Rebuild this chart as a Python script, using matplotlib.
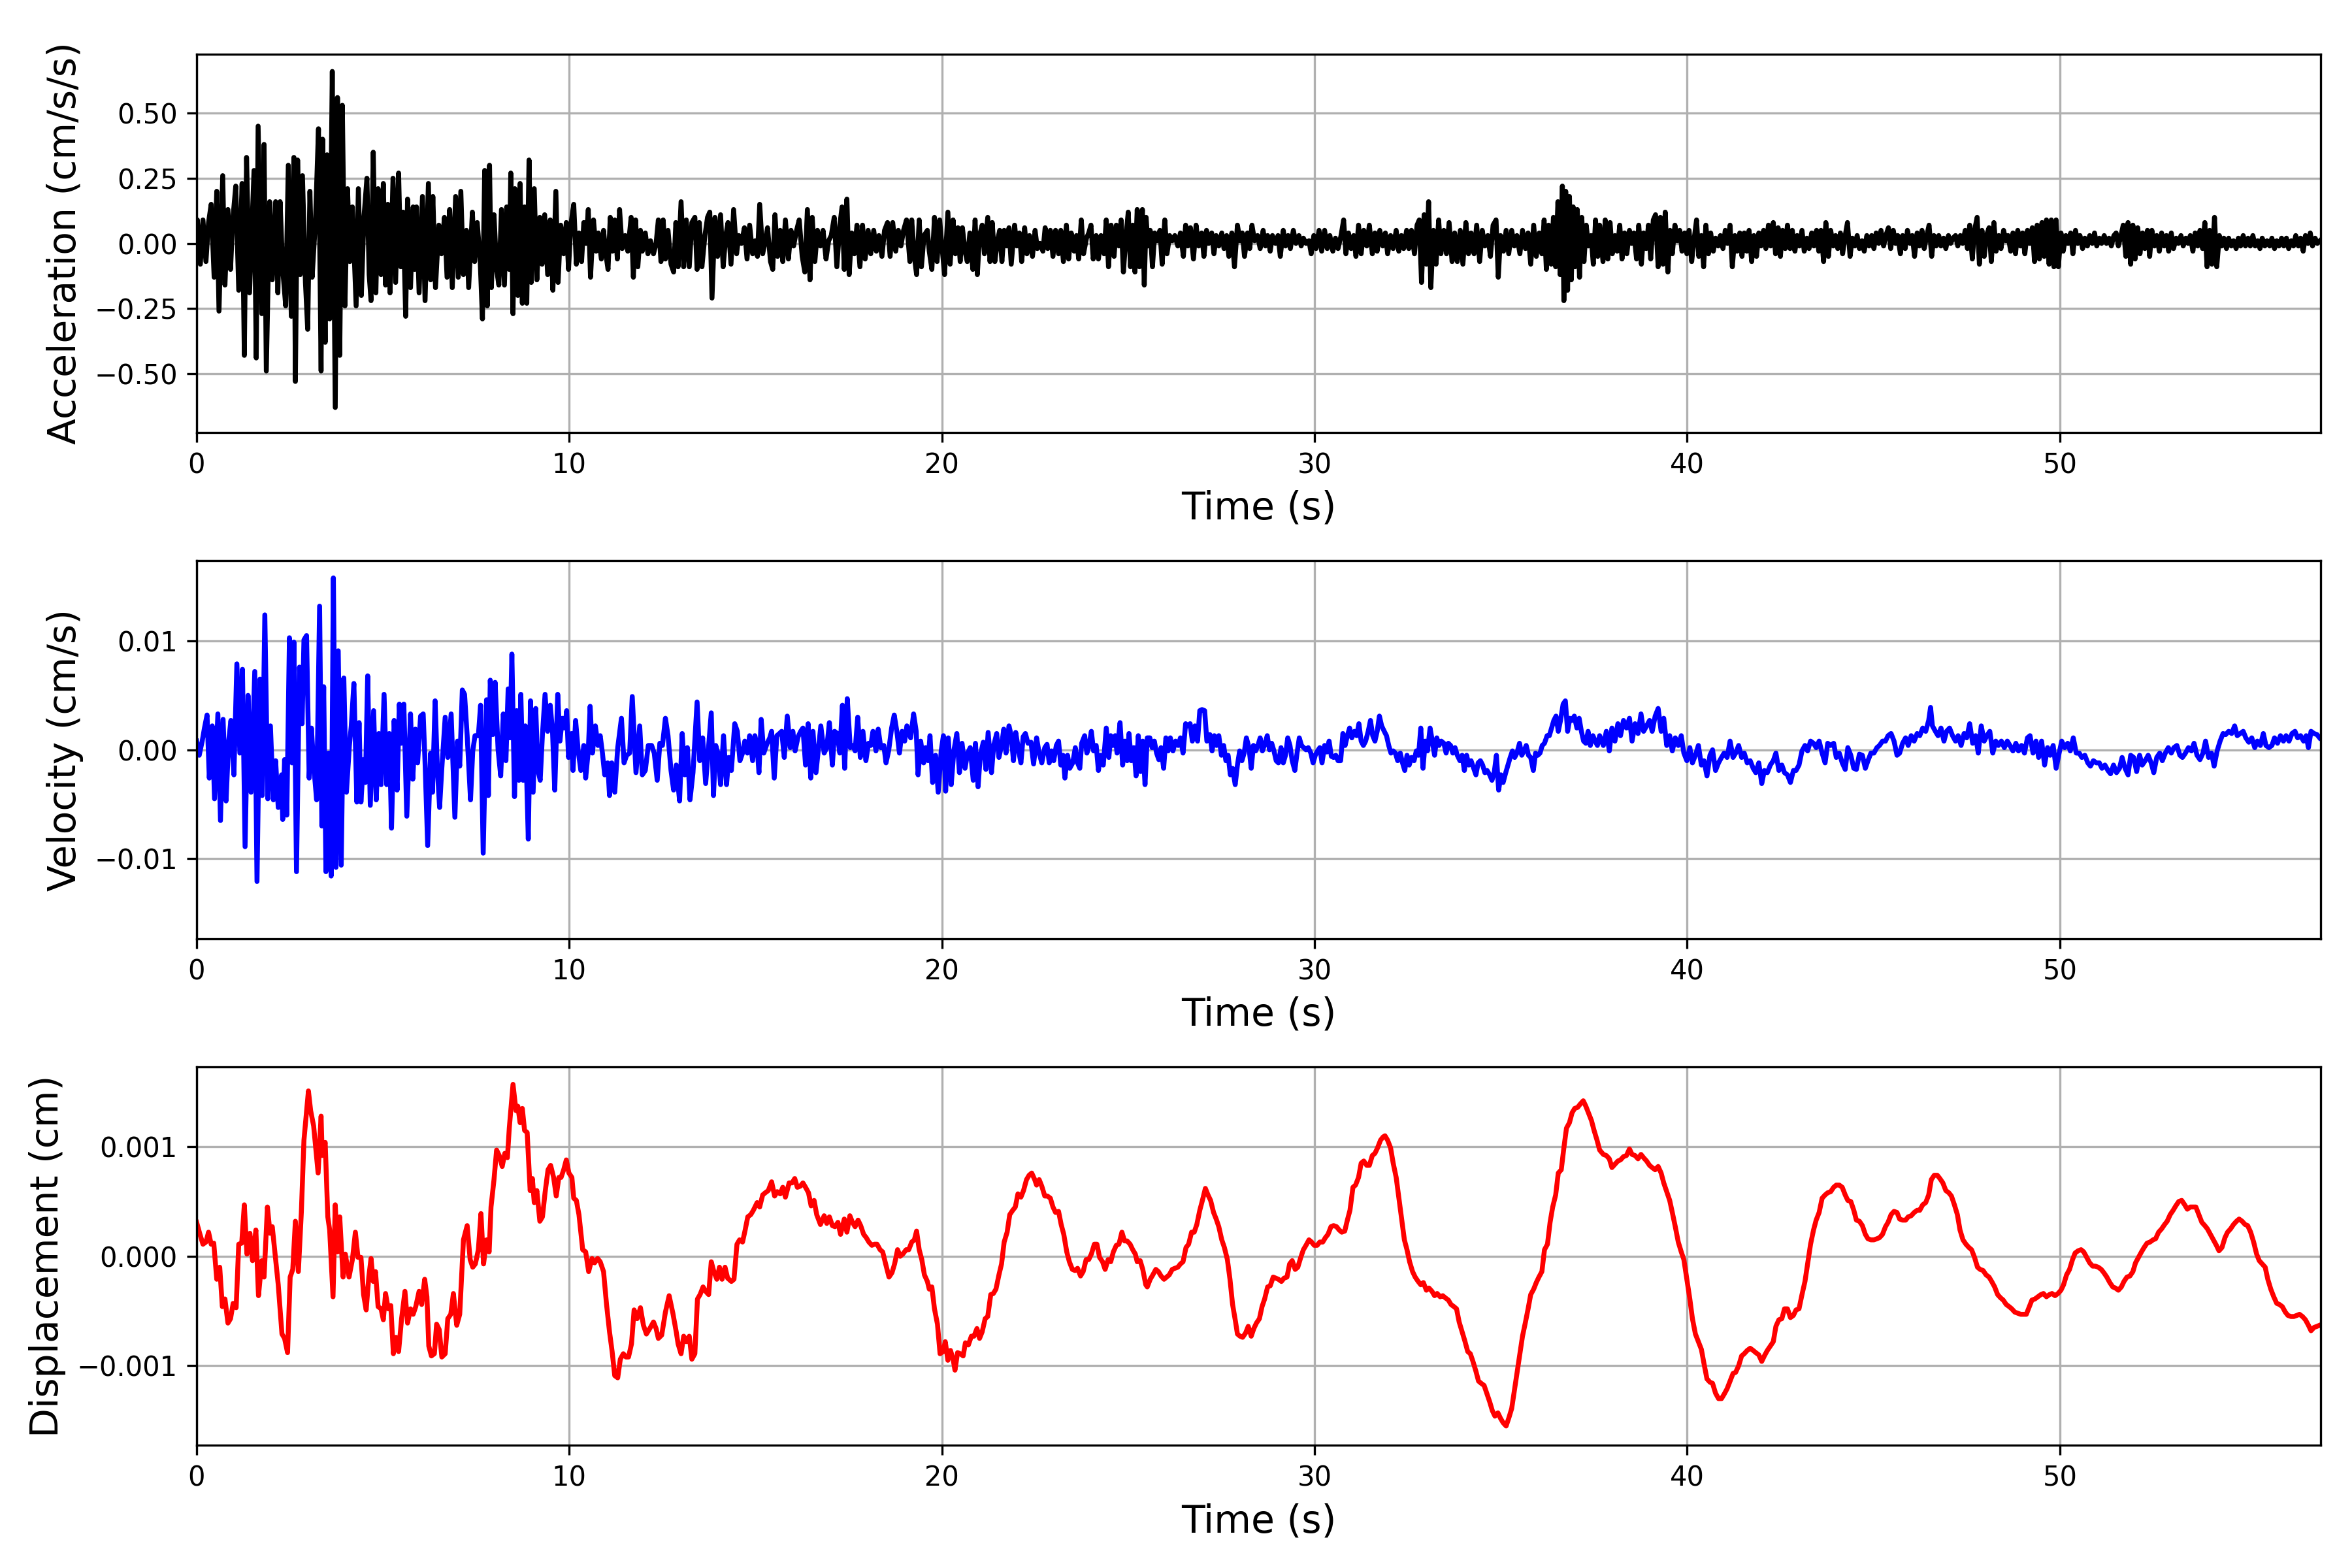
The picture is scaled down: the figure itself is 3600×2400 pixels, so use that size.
import matplotlib
matplotlib.use('Agg')
import matplotlib.pyplot as plt
import numpy as np

# values
# acceleration: (time s, value in 0.01 cm/s/s)
acc_pts = [
    (0.00, 0), (0.02, 9), (0.10, -8), (0.17, 9), (0.25, -7), (0.32, 8), (0.39, 15), (0.47, -13), (0.54, 20), (0.60, -26),
    (0.70, 26), (0.76, -16), (0.84, 13), (0.91, -10), (0.97, 9), (1.05, 22), (1.13, -18), (1.22, 23), (1.28, -43), (1.34, 33),
    (1.42, -19), (1.54, 28), (1.60, -44), (1.65, 45), (1.75, -27), (1.81, 38), (1.87, -49), (1.96, 16), (2.03, -14), (2.12, 16),
    (2.18, -19), (2.24, 16), (2.31, -10), (2.39, -24), (2.46, 30), (2.54, -28), (2.61, 33), (2.65, -53), (2.71, 32), (2.78, -12),
    (2.84, 26), (2.92, -15), (2.98, -33), (3.04, 20), (3.10, -13), (3.19, 9), (3.27, 44), (3.34, -49), (3.38, 40), (3.45, -38),
    (3.50, 34), (3.57, -29), (3.64, 66), (3.72, -63), (3.78, 56), (3.84, -43), (3.91, 53), (3.98, -24), (4.05, 21), (4.11, -7),
    (4.18, 14), (4.28, -24), (4.34, 21), (4.42, -20), (4.49, 10), (4.57, 25), (4.63, -12), (4.68, -22), (4.74, 35), (4.81, -19),
    (4.87, 21), (4.95, -12), (5.01, 23), (5.07, -16), (5.13, 15), (5.19, -19), (5.27, 25), (5.34, -15), (5.42, 27), (5.48, -9),
    (5.54, 12), (5.61, -28), (5.66, 17), (5.74, -17), (5.81, 14), (5.85, -10), (5.90, 14), (5.97, -19), (6.06, 18), (6.13, -22),
    (6.22, 23), (6.28, -14), (6.34, 18), (6.41, -17), (6.50, 7), (6.57, -4), (6.65, 10), (6.72, -13), (6.79, 13), (6.86, -17),
    (6.95, 18), (7.02, -13), (7.09, 20), (7.16, -12), (7.24, 5), (7.30, -17), (7.40, 12), (7.46, -7), (7.53, 8), (7.61, -7),
    (7.67, -29), (7.73, 28), (7.80, -24), (7.86, 30), (7.91, -17), (7.98, 11), (8.05, -10), (8.11, -16), (8.18, 13), (8.26, -16),
    (8.32, 14), (8.39, -10), (8.43, 27), (8.49, -27), (8.54, 21), (8.62, -20), (8.68, 23), (8.74, -23), (8.80, 14), (8.86, -23),
    (8.92, 32), (8.98, -15), (9.06, 21), (9.13, -14), (9.21, 10), (9.27, -8), (9.34, 11), (9.42, -12), (9.49, 9), (9.56, -18),
    (9.64, 20), (9.70, -15), (9.77, 7), (9.85, -4), (9.92, 8), (9.98, -10), (10.04, 7), (10.12, 15), (10.19, -8), (10.26, 4),
    (10.33, -7), (10.39, 8), (10.45, 0), (10.51, 13), (10.57, -13), (10.65, 9), (10.72, -3), (10.78, 4), (10.86, -6), (10.92, 5),
    (10.98, -4), (11.04, -10), (11.10, 10), (11.16, -3), (11.22, 9), (11.29, -6), (11.35, 13), (11.42, -2), (11.50, 3), (11.57, -3),
    (11.66, 10), (11.72, -13), (11.78, 9), (11.84, -9), (11.91, 5), (11.96, -3), (12.04, 4), (12.11, -4), (12.18, 1), (12.26, -4),
    (12.33, 0), (12.39, 9), (12.46, -7), (12.52, 9), (12.58, -6), (12.65, 5), (12.73, -8), (12.80, -11), (12.86, 8), (12.92, -9),
    (13.00, 16), (13.07, -9), (13.14, 9), (13.22, -9), (13.29, 8), (13.37, 10), (13.43, -10), (13.49, 8), (13.56, -9), (13.64, 3),
    (13.71, 10), (13.77, 12), (13.83, -21), (13.91, 10), (13.98, -5), (14.06, 11), (14.13, -9), (14.20, 3), (14.26, 8), (14.34, -8),
    (14.41, 13), (14.49, -4), (14.55, 3), (14.62, 0), (14.70, 6), (14.77, -6), (14.84, 7), (14.92, -4), (14.99, 1), (15.05, -5),
    (15.11, 15), (15.19, -4), (15.26, 1), (15.32, 6), (15.40, -7), (15.46, -10), (15.52, 11), (15.59, -5), (15.66, 5), (15.73, -7),
    (15.80, 9), (15.88, -6), (15.95, 5), (16.02, -1), (16.10, 5), (16.17, 9), (16.25, -5), (16.32, -11), (16.39, 13), (16.46, -14),
    (16.52, 10), (16.59, -7), (16.66, 5), (16.74, -1), (16.81, 5), (16.89, -6), (16.96, 1), (17.03, 3), (17.11, 10), (17.18, -9),
    (17.26, 7), (17.32, 14), (17.38, -10), (17.45, 17), (17.51, -12), (17.58, 4), (17.65, -4), (17.72, 7), (17.80, -9), (17.87, 7),
    (17.94, -6), (18.02, 5), (18.09, -4), (18.17, 5), (18.24, -3), (18.31, 3), (18.39, -5), (18.46, 5), (18.54, 8), (18.61, -5),
    (18.68, 8), (18.76, -3), (18.83, 5), (18.90, -1), (18.97, 5), (19.05, 9),
    (19.14, -7), (19.19, 9), (19.26, -5), (19.32, -12), (19.39, 9), (19.45, -9), (19.52, 3), (19.61, 5), (19.66, -3), (19.73, -10),
    (19.80, 10), (19.87, -7), (19.94, 9), (20.00, -1), (20.07, -12), (20.16, 12), (20.22, -8), (20.30, 9), (20.36, -4), (20.43, 6),
    (20.49, -7), (20.55, 6), (20.62, -3), (20.68, -7), (20.75, 4), (20.83, -10), (20.89, 9), (20.95, -12), (21.01, 3), (21.08, 7),
    (21.14, -4), (21.23, 10), (21.29, -7), (21.35, 8), (21.42, -7), (21.49, 1), (21.55, 5), (21.61, -7), (21.67, 5), (21.74, -1),
    (21.80, 6), (21.86, -8), (21.95, 7), (22.01, -1), (22.08, 4), (22.14, -7), (22.22, 6), (22.28, -4), (22.35, 3), (22.43, -5),
    (22.50, 5), (22.56, -2), (22.63, 0), (22.71, -3), (22.77, 6), (22.84, -2), (22.91, 5), (22.98, -5), (23.05, 5), (23.13, -4),
    (23.19, 5), (23.26, -7), (23.34, 7), (23.40, -6), (23.47, 4), (23.55, -3), (23.61, 3), (23.67, -6), (23.74, 9), (23.80, -4),
    (23.88, 2), (23.94, 4), (24.00, 7), (24.06, -6), (24.14, 3), (24.20, -6), (24.27, 3), (24.35, -4), (24.41, 9), (24.47, -9),
    (24.54, 7), (24.62, -5), (24.68, 7), (24.75, -1), (24.81, 9), (24.87, -11), (24.94, 3), (25.00, 12), (25.06, -9), (25.12, 7),
    (25.18, -11), (25.24, 13), (25.30, -9), (25.38, 13), (25.43, -16), (25.48, 10), (25.53, -1), (25.59, 5), (25.65, -9), (25.71, 4),
    (25.77, 1), (25.85, 5), (25.91, -8), (25.98, 9), (26.04, -4), (26.11, 3), (26.18, 1), (26.25, 3), (26.33, -1), (26.40, 4),
    (26.48, -5), (26.54, 7), (26.60, -1), (26.67, 6), (26.75, -6), (26.82, 7), (26.89, -1), (26.97, 4), (27.03, -5), (27.10, 5),
    (27.16, 0), (27.24, 4), (27.30, -4), (27.36, 3), (27.43, -1), (27.51, 4), (27.57, -2), (27.64, 3), (27.70, -5), (27.78, 4),
    (27.85, -9), (27.93, 7), (28.00, 1), (28.06, 4), (28.12, -5), (28.20, 4), (28.26, -2), (28.32, 7), (28.39, 1), (28.47, 3),
    (28.54, -2), (28.62, 5), (28.68, -1), (28.74, 3), (28.81, -3), (28.87, 3), (28.95, 0), (29.02, 3), (29.08, -5), (29.16, 5),
    (29.22, -1), (29.29, 3), (29.35, -2), (29.43, 5), (29.50, 0), (29.58, 3), (29.64, -1), (29.70, 2), (29.77, 0), (29.85, 1),
    (29.91, -4), (29.98, 3), (30.04, -2), (30.12, 5), (30.19, -3), (30.27, 5), (30.34, -2), (30.41, 3), (30.49, -3), (30.56, 2),
    (30.63, -2), (30.71, 3), (30.78, 9), (30.84, -4), (30.91, 4), (30.98, -2), (31.05, 3), (31.11, -5), (31.18, 7), (31.25, -4),
    (31.32, 5), (31.40, -1), (31.47, 7), (31.55, -4), (31.62, 4), (31.68, -3), (31.75, 5), (31.83, -1), (31.90, 4), (31.96, -4),
    (32.04, 3), (32.11, -2), (32.19, 5), (32.26, -3), (32.33, 3), (32.39, -2), (32.47, 5), (32.53, -2), (32.60, 5), (32.68, -4),
    (32.75, 7), (32.81, 9), (32.87, -15), (32.94, 11), (33.00, -8), (33.06, 16), (33.12, -17), (33.19, 5), (33.26, -8), (33.33, 9),
    (33.39, -4), (33.47, 5), (33.54, -4), (33.61, 8), (33.69, -7), (33.76, 4), (33.83, -7), (33.91, 5), (33.98, -8), (34.06, 8),
    (34.13, -4), (34.20, 4), (34.28, -4), (34.35, 7), (34.43, -7), (34.50, 5), (34.57, -1), (34.65, 3), (34.72, -5), (34.79, 7),
    (34.87, 9), (34.93, -13), (34.99, 3), (35.07, -3), (35.14, 5), (35.21, -4), (35.29, 5), (35.36, -1), (35.43, 3), (35.51, -4),
    (35.58, 5), (35.66, -2), (35.73, 4), (35.80, -8), (35.88, 7), (35.95, -5), (36.03, 4), (36.10, -4), (36.16, 9), (36.22, -10),
    (36.28, 7), (36.35, -8), (36.41, 10), (36.47, -9), (36.53, 16), (36.59, -12), (36.65, 22), (36.69, -22), (36.74, 20), (36.79, -18),
    (36.84, 18), (36.89, -14), (36.94, 14), (36.99, -9), (37.05, 13), (37.11, -13), (37.17, 10), (37.23, -7), (37.29, 7), (37.35, -1),
    (37.42, 3), (37.48, -8), (37.54, 9), (37.60, -5), (37.65, 7),
    (37.74, -7), (37.80, 9), (37.87, -6), (37.93, 8), (37.99, -4), (38.06, 3), (38.12, -3), (38.19, 7), (38.25, -6), (38.32, 4),
    (38.38, -4), (38.45, 5), (38.51, 0), (38.57, 4), (38.64, -6), (38.70, 7), (38.77, -8), (38.83, 4), (38.90, -2), (38.96, 7),
    (39.02, -6), (39.09, 9), (39.15, 11), (39.22, -9), (39.28, 10), (39.35, -8), (39.41, 12), (39.48, -11), (39.54, 5), (39.60, -4),
    (39.67, 7), (39.73, 1), (39.80, 5), (39.86, -3), (39.93, 4), (39.99, -4), (40.05, 5), (40.12, -7), (40.18, 1), (40.25, 9),
    (40.31, -5), (40.38, 3), (40.44, -9), (40.50, 7), (40.57, -4), (40.63, 4), (40.70, -3), (40.76, 2), (40.83, -1), (40.89, 3),
    (40.96, -2), (41.02, 5), (41.08, 0), (41.15, 7), (41.21, -9), (41.28, 3), (41.34, -3), (41.41, 4), (41.47, -5), (41.53, 4),
    (41.60, -3), (41.66, 5), (41.73, -7), (41.79, 3), (41.86, -5), (41.92, 4), (41.98, -1), (42.05, 5), (42.11, -2), (42.18, 7),
    (42.24, -1), (42.31, 8), (42.37, -4), (42.44, 6), (42.50, -5), (42.56, 5), (42.63, -2), (42.69, 7), (42.76, -2), (42.82, 5),
    (42.89, -3), (42.95, 3), (43.01, -1), (43.08, 5), (43.14, -3), (43.21, 2), (43.27, -2), (43.34, 4), (43.40, -1), (43.47, 5),
    (43.53, -3), (43.59, 5), (43.66, -7), (43.72, 8), (43.79, -5), (43.85, 5), (43.92, -1), (43.98, 3), (44.04, -2), (44.11, 4),
    (44.17, -4), (44.24, 3), (44.30, 8), (44.37, -5), (44.43, 2), (44.50, -1), (44.56, 3), (44.62, -2), (44.69, 1), (44.75, -3),
    (44.82, 3), (44.88, -1), (44.95, 3), (45.01, -2), (45.07, 4), (45.14, 0), (45.20, 5), (45.27, -1), (45.33, 3), (45.40, 6),
    (45.46, -2), (45.53, 5), (45.59, 0), (45.65, 3), (45.72, -4), (45.78, 3), (45.85, -2), (45.91, 5), (45.98, 0), (46.04, 3),
    (46.10, -5), (46.17, 4), (46.23, -1), (46.30, 5), (46.36, -2), (46.43, 3), (46.49, 7), (46.56, -5), (46.62, 3), (46.68, -1),
    (46.75, 3), (46.81, -1), (46.88, 2), (46.94, -2), (47.01, 3), (47.07, 0), (47.13, 2), (47.20, 3), (47.26, -1), (47.33, 3),
    (47.39, 0), (47.46, 5), (47.52, -2), (47.58, 7), (47.65, -6), (47.71, 5), (47.78, 10), (47.84, -8), (47.91, 5), (47.97, -5),
    (48.03, 3), (48.10, 6), (48.16, -7), (48.23, 8), (48.29, -3), (48.36, 3), (48.42, -2), (48.49, 5), (48.55, 1), (48.61, 3),
    (48.68, -3), (48.74, 4), (48.81, -4), (48.87, 5), (48.94, -1), (49.00, 4), (49.06, -4), (49.13, 5), (49.19, 0), (49.26, 6),
    (49.32, -7), (49.39, 7), (49.45, -6), (49.52, 8), (49.58, -5), (49.64, 9), (49.71, -8), (49.77, 9), (49.84, -9), (49.90, 9),
    (49.96, -9), (50.03, 4), (50.09, -3), (50.16, 3), (50.22, 0), (50.29, 4), (50.35, -4), (50.42, 5), (50.48, 0), (50.54, 3),
    (50.61, -2), (50.67, 2), (50.74, -1), (50.80, 3), (50.87, 0), (50.93, 4), (50.99, -1), (51.06, 2), (51.12, 0), (51.19, 3),
    (51.25, 0), (51.32, 2), (51.38, -1), (51.45, 3), (51.51, 4), (51.57, -1), (51.64, 3), (51.70, 7), (51.77, -5), (51.83, 8),
    (51.90, -8), (51.96, 7), (52.02, -6), (52.09, 6), (52.15, -4), (52.22, 4), (52.28, -2), (52.35, 5), (52.41, -5), (52.47, 5),
    (52.54, -1), (52.60, 3), (52.67, -3), (52.73, 4), (52.80, -1), (52.86, 3), (52.92, -3), (52.99, 4), (53.05, -2), (53.12, 2),
    (53.18, 0), (53.25, 3), (53.31, -1), (53.38, 2), (53.44, 0), (53.50, 3), (53.57, -3), (53.63, 4), (53.70, -1), (53.76, 5),
    (53.83, -2), (53.89, 8), (53.95, -9), (54.02, 5), (54.08, -8), (54.15, 10), (54.21, -9), (54.28, 3), (54.34, -1), (54.40, 2),
    (54.47, -2), (54.53, 2), (54.60, -1), (54.66, 1), (54.73, -2), (54.79, 2), (54.85, -1), (54.92, 3), (54.98, -1), (55.05, 2),
    (55.11, -1), (55.18, 3), (55.24, -1), (55.31, 1), (55.37, -2), (55.43, 2), (55.50, -1), (55.56, 1), (55.63, -1), (55.69, 2),
    (55.76, -2), (55.82, 1), (55.88, -1), (55.95, 2), (56.01, -1), (56.08, 2), (56.14, -2), (56.21, 1), (56.27, -1), (56.33, 3),
    (56.40, -1), (56.46, 2), (56.53, -3), (56.59, 3), (56.66, 0), (56.72, 4), (56.78, -1), (56.85, 2), (56.91, 0), (56.98, 1),
]

# velocity: (time s, value in 1e-4 cm/s)
vel_pts = [
    (0.00, 8), (0.07, -5), (0.15, 8), (0.21, 20), (0.28, 32), (0.34, -26), (0.42, 22), (0.48, -45), (0.57, 33), (0.64, -65),
    (0.71, 28), (0.79, -47), (0.86, 8), (0.92, 27), (1.00, -23), (1.08, 79), (1.16, -3), (1.23, 74), (1.30, -89), (1.38, 50),
    (1.46, -39), (1.56, 72), (1.62, -121), (1.70, 65), (1.76, -42), (1.83, 124), (1.91, -45), (1.98, 22), (2.06, -46), (2.12, -10),
    (2.19, -53), (2.28, -23), (2.31, -64), (2.36, -9), (2.42, -60), (2.49, 103), (2.56, -12), (2.61, 99), (2.68, -112), (2.76, 76),
    (2.83, 24), (2.88, 101), (2.95, 105), (3.02, -26), (3.08, 20), (3.14, -14), (3.22, -46), (3.30, 132), (3.36, -70), (3.41, 58),
    (3.47, -112), (3.54, -3), (3.61, -116), (3.67, 158), (3.74, -108), (3.80, 91), (3.88, -106), (3.95, 66), (4.02, -39), (4.10, 4),
    (4.15, 22), (4.22, 61), (4.30, -48), (4.36, 25), (4.41, -48), (4.48, -9), (4.53, -30), (4.59, 68), (4.66, -51), (4.75, 36),
    (4.82, -46), (4.89, 15), (4.95, -32), (5.03, 51), (5.10, -32), (5.17, 15), (5.23, -72), (5.30, 27), (5.38, -37), (5.44, 42),
    (5.49, 6), (5.56, 42), (5.64, -61), (5.74, 33), (5.80, -27), (5.87, 19), (5.93, -12), (6.01, 31), (6.08, 33), (6.13, -12),
    (6.20, -88), (6.28, -3), (6.33, -39), (6.40, 45), (6.46, -17), (6.52, -53), (6.58, -17), (6.67, 30), (6.74, -7), (6.83, 33),
    (6.93, -62), (7.00, 8), (7.06, -15), (7.13, 55), (7.19, 51), (7.26, 13), (7.35, -46), (7.41, -1), (7.47, 13), (7.56, 13),
    (7.62, 41), (7.69, -95), (7.78, 46), (7.83, -42), (7.88, 64), (7.95, 14), (8.01, 62), (8.09, 0), (8.16, -24), (8.23, 33),
    (8.30, -10), (8.36, 56), (8.41, 11), (8.46, 88), (8.53, -43), (8.59, 36), (8.65, -28), (8.70, 51), (8.76, -28), (8.82, 22),
    (8.90, -82), (8.96, 45), (9.03, -39), (9.10, 38), (9.16, -19), (9.22, -28), (9.28, 14), (9.35, 51), (9.42, 17), (9.49, 41),
    (9.55, 17), (9.61, -37), (9.69, 51), (9.75, 8), (9.81, 29), (9.88, 20), (9.93, 36), (9.98, -7), (10.06, 15), (10.10, -19),
    (10.17, 27), (10.24, -1), (10.31, -19), (10.39, 4), (10.44, -26), (10.51, -1), (10.56, 40), (10.62, -3), (10.70, 22), (10.77, 4),
    (10.83, 13), (10.89, -3), (10.95, -23), (11.03, -12), (11.08, -42), (11.14, -12), (11.22, -39), (11.30, 2), (11.40, 29), (11.47, -12),
    (11.54, -5), (11.62, -3), (11.69, 49), (11.79, -21), (11.89, 22), (11.96, -23), (12.04, -19), (12.12, 4), (12.21, 4), (12.28, -3),
    (12.36, -28), (12.43, 6), (12.50, 4), (12.58, 29), (12.65, 13), (12.73, -19), (12.80, -37), (12.87, -14), (12.96, -47), (13.03, 15),
    (13.10, -23), (13.17, 2), (13.24, -46), (13.32, -21), (13.43, 44), (13.50, -10), (13.58, 11), (13.66, -31), (13.74, 4), (13.81, 34),
    (13.87, -42), (13.93, 4), (13.99, -3), (14.06, -32), (14.14, 13), (14.22, -32), (14.28, -7), (14.35, -19), (14.44, 24), (14.51, 17),
    (14.58, -10), (14.65, -3), (14.71, 8), (14.78, -3), (14.84, 13), (14.92, -10), (14.98, 13), (15.04, 4), (15.09, -21), (15.15, 28),
    (15.22, -3), (15.31, 6), (15.38, 11), (15.43, 17), (15.50, -26), (15.57, 13), (15.64, 15), (15.70, 17), (15.77, -7), (15.85, 31),
    (15.93, 2), (16.00, 17), (16.06, -1), (16.14, 12), (16.21, 17), (16.27, 20), (16.34, -14), (16.41, 24), (16.48, -26), (16.54, 17),
    (16.62, -21), (16.69, 2), (16.75, 22), (16.84, -3), (16.91, 2), (16.98, 25), (17.06, -14), (17.12, 17), (17.19, 15), (17.26, -3),
    (17.33, 41), (17.39, -17), (17.46, 47), (17.54, 2), (17.61, 4), (17.67, -1), (17.74, 30), (17.81, -7), (17.88, 17), (17.96, -10),
    (18.03, 6), (18.09, 4), (18.15, 17), (18.23, -1), (18.29, 19), (18.36, 2), (18.44, 4), (18.50, -12), (18.57, -1), (18.65, 20),
    (18.72, 32), (18.79, 17), (18.86, -3), (18.93, 17), (19.00, 8), (19.06, 22),
    (19.16, 11), (19.24, 33), (19.31, 17), (19.36, -23), (19.43, 8), (19.51, -12), (19.56, 2), (19.63, -10), (19.68, 13), (19.75, -30),
    (19.83, -5), (19.90, -39), (19.98, -1), (20.04, 13), (20.10, -38), (20.17, 11), (20.25, -32), (20.32, -1), (20.40, 15), (20.47, -21),
    (20.54, 6), (20.62, -17), (20.69, -3), (20.76, 2), (20.84, -28), (20.90, 6), (20.97, -34), (21.03, -5), (21.11, 7), (21.18, -18),
    (21.24, 16), (21.33, -21), (21.39, 4), (21.47, 15), (21.53, -7), (21.60, 4), (21.66, 19), (21.72, -3), (21.80, 22), (21.86, 13),
    (21.92, -10), (21.98, 16), (22.06, -1), (22.12, -12), (22.18, 12), (22.24, 15), (22.31, 6), (22.39, 7), (22.46, -13), (22.54, 11),
    (22.61, -3), (22.68, -12), (22.76, 2), (22.82, 5), (22.88, -12), (22.94, -1), (23.00, -10), (23.07, 4), (23.13, 8), (23.19, -14),
    (23.25, -5), (23.30, -26), (23.37, -5), (23.43, -17), (23.51, -12), (23.58, 2), (23.64, -12), (23.70, -17), (23.75, 6), (23.83, 13),
    (23.89, -3), (23.95, 4), (24.01, 17), (24.07, -1), (24.14, 4), (24.20, -19), (24.26, -5), (24.33, -14), (24.41, 20), (24.48, -7),
    (24.53, 13), (24.59, 4), (24.65, 13), (24.70, -3), (24.78, 25), (24.85, -14), (24.91, 8), (24.97, -10), (25.02, 15), (25.08, -10),
    (25.15, 2), (25.21, -24), (25.27, 13), (25.33, -20), (25.39, 8), (25.45, -32), (25.51, 11), (25.58, 11), (25.64, 2), (25.70, 8),
    (25.76, -3), (25.82, -9), (25.88, 2), (25.95, -17), (26.01, 11), (26.07, -1), (26.13, 11), (26.20, -1), (26.27, 8), (26.34, 4),
    (26.40, 11), (26.47, -3), (26.54, 24), (26.60, 22), (26.66, 24), (26.72, 8), (26.79, 22), (26.86, 8), (26.92, 36), (26.98, 37),
    (27.05, 36), (27.11, 8), (27.19, 14), (27.25, -1), (27.31, 13), (27.37, 4), (27.43, 13), (27.50, -5), (27.56, 4), (27.62, -10),
    (27.68, -5), (27.74, -23), (27.80, -17), (27.87, -32), (27.93, -14), (27.99, -1), (28.05, -10), (28.11, -3), (28.17, 11), (28.24, 2),
    (28.30, -17), (28.36, 4), (28.42, -1), (28.48, 4), (28.54, 11), (28.60, -1), (28.67, 6), (28.73, 13), (28.79, 0), (28.85, 6),
    (28.91, -1), (28.97, -10), (29.03, -12), (29.10, 2), (29.16, -12), (29.22, -5), (29.28, 11), (29.34, 4), (29.40, -10), (29.47, -19),
    (29.53, -3), (29.59, 11), (29.65, 4), (29.71, 2), (29.77, 0), (29.83, 2), (29.90, -3), (29.96, -12), (30.02, -5), (30.08, -1),
    (30.14, 2), (30.20, -12), (30.27, 4), (30.33, -2), (30.39, 8), (30.45, -6), (30.51, -7), (30.57, -5), (30.63, -10), (30.70, -10),
    (30.76, 15), (30.82, 4), (30.88, 13), (30.94, 20), (31.00, 11), (31.07, 17), (31.13, 13), (31.19, 24), (31.25, 8), (31.31, 4),
    (31.37, 8), (31.44, 17), (31.50, 27), (31.56, 13), (31.62, 8), (31.68, 17), (31.74, 31), (31.80, 22), (31.87, 17), (31.93, 13),
    (31.99, 4), (32.05, -3), (32.11, -1), (32.17, -3), (32.23, -10), (32.30, -3), (32.36, -12), (32.42, -19), (32.48, -5), (32.54, -14),
    (32.60, -7), (32.67, -10), (32.73, -1), (32.79, -5), (32.85, 20), (32.91, -17), (32.97, 8), (33.03, -1), (33.10, 20), (33.16, 8),
    (33.22, -5), (33.28, 11), (33.34, 4), (33.40, 8), (33.47, 6), (33.53, -3), (33.59, 6), (33.65, 4), (33.71, -3), (33.77, 2),
    (33.83, -5), (33.90, -10), (33.96, -5), (34.02, -19), (34.08, -5), (34.14, -14), (34.20, -10), (34.27, -17), (34.33, -23), (34.39, -12),
    (34.45, -10), (34.51, -14), (34.57, -21), (34.63, -19), (34.70, -23), (34.76, -28), (34.82, -21), (34.88, -5), (34.94, -37), (35.00, -23),
    (35.06, -30), (35.13, -21), (35.19, -14), (35.25, -7), (35.31, -1), (35.37, -7), (35.43, -3), (35.50, 6), (35.56, -5), (35.62, -1),
    (35.68, 4), (35.74, -5), (35.80, -7), (35.87, -19), (35.93, -3), (35.99, -5), (36.05, -3), (36.11, 4), (36.17, 6), (36.24, 13),
    (36.30, 13), (36.36, 20), (36.42, 27), (36.48, 31), (36.54, 17), (36.60, 27), (36.67, 42), (36.73, 45), (36.79, 17), (36.85, 29),
    (36.91, 27), (36.97, 31), (37.04, 20), (37.10, 29), (37.16, 17), (37.22, 8), (37.28, 6), (37.34, 17), (37.40, 4), (37.47, 13),
    (37.53, 8), (37.59, 4), (37.65, 13),
    (37.75, 4), (37.83, 17), (37.91, -1), (37.98, 20), (38.06, 8), (38.14, 24), (38.21, 13), (38.29, 27), (38.37, 20), (38.45, 29),
    (38.52, 8), (38.60, 24), (38.68, 15), (38.76, 33), (38.83, 17), (38.91, 22), (38.99, 27), (39.06, 17), (39.14, 31), (39.22, 38),
    (39.30, 17), (39.37, 29), (39.45, 4), (39.53, 13), (39.60, -1), (39.68, 11), (39.76, 4), (39.84, 13), (39.91, -3), (39.99, -10),
    (40.07, 2), (40.14, -12), (40.22, -5), (40.30, 4), (40.38, -14), (40.45, -10), (40.53, -24), (40.61, -5), (40.68, 0), (40.76, -19),
    (40.84, -12), (40.92, -7), (40.99, -3), (41.07, -7), (41.15, 8), (41.23, -7), (41.30, -3), (41.38, 4), (41.46, -7), (41.53, -3),
    (41.61, -12), (41.69, -10), (41.77, -17), (41.84, -21), (41.92, -12), (42.00, -31), (42.07, -19), (42.15, -21), (42.23, -14), (42.31, -10),
    (42.38, -3), (42.46, -19), (42.54, -14), (42.61, -21), (42.69, -23), (42.77, -30), (42.85, -19), (42.92, -19), (43.00, -14), (43.08, -1),
    (43.16, 4), (43.23, -1), (43.31, 8), (43.39, 6), (43.46, 2), (43.54, 8), (43.62, -3), (43.70, -12), (43.77, 6), (43.85, 4),
    (43.93, 6), (44.00, -7), (44.08, -3), (44.16, -12), (44.24, -18), (44.31, 2), (44.39, -5), (44.47, -17), (44.54, -18), (44.62, -4),
    (44.70, -5), (44.78, -17), (44.85, -10), (44.93, -3), (45.01, -3), (45.09, 2), (45.16, 4), (45.24, 8), (45.32, 8), (45.39, 13),
    (45.47, 15), (45.55, 8), (45.63, -5), (45.70, -3), (45.78, 6), (45.86, 11), (45.93, 4), (46.01, 13), (46.09, 8), (46.17, 15),
    (46.24, 13), (46.32, 20), (46.40, 17), (46.48, 27), (46.53, 39), (46.58, 22), (46.66, 17), (46.73, 13), (46.81, 20), (46.89, 8),
    (46.96, 17), (47.04, 20), (47.12, 13), (47.20, 8), (47.27, 13), (47.35, 4), (47.43, 15), (47.50, 11), (47.58, 24), (47.66, 6),
    (47.74, 13), (47.81, -3), (47.89, 22), (47.97, 8), (48.04, 13), (48.12, 17), (48.20, -3), (48.28, 8), (48.35, 4), (48.43, 8),
    (48.51, 2), (48.59, 8), (48.66, 4), (48.74, -1), (48.82, 6), (48.89, -1), (48.97, 4), (49.05, -3), (49.13, 11), (49.20, 13),
    (49.28, -3), (49.36, 8), (49.43, -7), (49.51, 8), (49.59, -14), (49.67, 2), (49.74, -5), (49.82, 4), (49.90, -17), (49.98, -3),
    (50.05, 8), (50.13, 2), (50.21, 6), (50.28, -1), (50.36, 11), (50.44, -3), (50.52, -3), (50.59, -7), (50.67, -5), (50.75, -12),
    (50.82, -15), (50.90, -10), (50.98, -12), (51.06, -12), (51.13, -17), (51.21, -14), (51.29, -19), (51.36, -22), (51.44, -14), (51.52, -21),
    (51.60, -17), (51.67, -7), (51.75, -17), (51.83, -23), (51.90, -5), (51.98, -7), (52.06, -20), (52.14, -5), (52.21, -14), (52.29, -10),
    (52.37, -5), (52.45, -12), (52.52, -21), (52.60, -7), (52.68, -3), (52.75, -10), (52.83, -3), (52.91, 2), (52.99, -3), (53.06, 2),
    (53.14, 4), (53.22, -5), (53.29, -7), (53.37, -3), (53.45, 2), (53.53, -1), (53.60, 6), (53.68, -5), (53.76, -9), (53.84, -3),
    (53.91, 8), (53.99, -7), (54.07, -3), (54.14, -15), (54.22, -1), (54.30, 8), (54.38, 15), (54.45, 14), (54.53, 17), (54.61, 15),
    (54.69, 22), (54.76, 13), (54.84, 15), (54.92, 17), (54.99, 11), (55.07, 7), (55.15, 11), (55.23, 2), (55.30, 8), (55.38, 4),
    (55.46, 15), (55.53, 4), (55.61, 2), (55.69, 4), (55.76, 11), (55.84, 6), (55.92, 13), (56.00, 8), (56.07, 13), (56.15, 8),
    (56.23, 15), (56.31, 17), (56.38, 11), (56.46, 13), (56.54, 8), (56.61, 13), (56.67, 2), (56.74, 17), (56.82, 15), (56.90, 14),
    (56.97, 11),
]

# displacement: (time s, value in 1e-5 cm)
disp_pts = [
    (0.00, 31), (0.09, 20), (0.17, 11), (0.25, 13), (0.32, 22), (0.39, 11), (0.46, 12), (0.54, -21), (0.62, -10), (0.69, -46),
    (0.76, -39), (0.84, -61), (0.91, -57), (0.98, -43), (1.06, -47), (1.13, 11), (1.21, 12), (1.28, 47), (1.35, 2), (1.43, 21),
    (1.50, -4), (1.59, 24), (1.66, -36), (1.75, -4), (1.81, -19), (1.90, 45), (1.97, 21), (2.03, 27), (2.12, -3), (2.19, -26),
    (2.29, -71), (2.36, -75), (2.44, -88), (2.51, -19), (2.58, -12), (2.65, 32), (2.73, -14), (2.81, 40), (2.88, 106), (3.00, 151),
    (3.06, 133), (3.14, 119), (3.26, 76), (3.34, 128), (3.37, 92), (3.45, 104), (3.52, 36), (3.57, 24), (3.66, -37), (3.72, 47),
    (3.78, 4), (3.84, 36), (3.93, -19), (3.99, 2), (4.09, -19), (4.18, -3), (4.26, 22), (4.33, -1), (4.41, -1), (4.48, -35),
    (4.55, -49), (4.62, -19), (4.68, -2), (4.74, -23), (4.80, -14), (4.87, -46), (4.95, -48), (5.01, -58), (5.07, -34), (5.14, -48),
    (5.21, -45), (5.28, -89), (5.35, -74), (5.42, -87), (5.50, -57), (5.59, -32), (5.66, -61), (5.74, -48), (5.81, -53), (5.88, -46),
    (5.97, -32), (6.04, -44), (6.12, -21), (6.18, -37), (6.23, -82), (6.30, -91), (6.38, -89), (6.44, -62), (6.51, -67), (6.58, -92),
    (6.67, -89), (6.74, -57), (6.82, -53), (6.89, -34), (6.98, -63), (7.06, -53), (7.16, 15), (7.26, 28), (7.34, -3), (7.41, -10),
    (7.48, -7), (7.56, 6), (7.63, 39), (7.70, -7), (7.78, 15), (7.85, 4), (7.90, 45), (7.98, 70), (8.05, 97), (8.12, 92),
    (8.20, 82), (8.27, 94), (8.34, 90), (8.39, 117), (8.49, 157), (8.57, 133), (8.62, 137), (8.68, 122), (8.74, 135), (8.80, 115),
    (8.87, 113), (8.95, 60), (9.01, 71), (9.06, 49), (9.13, 60), (9.21, 32), (9.28, 36), (9.35, 58), (9.43, 79), (9.50, 83),
    (9.58, 72), (9.65, 55), (9.72, 72), (9.78, 72), (9.85, 79), (9.92, 88), (9.99, 76), (10.07, 72), (10.12, 53), (10.19, 51),
    (10.26, 38), (10.36, 6), (10.44, 4), (10.52, -14), (10.61, -2), (10.68, -6), (10.76, -2), (10.83, -5), (10.92, -14), (11.00, -44),
    (11.08, -69), (11.15, -87), (11.22, -109), (11.30, -111), (11.37, -94), (11.45, -89), (11.52, -92), (11.59, -92), (11.67, -80), (11.74, -49),
    (11.82, -57), (11.91, -47), (11.99, -63), (12.07, -71), (12.16, -66), (12.26, -60), (12.33, -66), (12.39, -75), (12.48, -72), (12.58, -51),
    (12.68, -36), (12.78, -52), (12.87, -69), (12.92, -80), (13.00, -89), (13.07, -73), (13.14, -78), (13.22, -73), (13.29, -94), (13.37, -89),
    (13.44, -39), (13.51, -35), (13.59, -28), (13.66, -32), (13.74, -35), (13.81, -5), (13.88, -14), (13.96, -21), (14.03, -10), (14.10, -21),
    (14.18, -10), (14.25, -20), (14.35, -23), (14.42, -21), (14.50, 11), (14.57, 15), (14.65, 13), (14.72, 24), (14.79, 36), (14.87, 38),
    (14.94, 42), (15.04, 49), (15.11, 45), (15.19, 56), (15.26, 58), (15.34, 60), (15.43, 68), (15.51, 55), (15.58, 59), (15.66, 57),
    (15.73, 63), (15.80, 54), (15.90, 67), (15.98, 67), (16.05, 71), (16.12, 63), (16.20, 64), (16.27, 67), (16.34, 63), (16.42, 58),
    (16.49, 46), (16.57, 51), (16.64, 38), (16.74, 29), (16.84, 37), (16.91, 30), (16.98, 36), (17.06, 28), (17.13, 27), (17.21, 31),
    (17.28, 20), (17.38, 34), (17.45, 22), (17.53, 37), (17.60, 31), (17.67, 27), (17.75, 33), (17.82, 28), (17.90, 20), (17.97, 17),
    (18.04, 13), (18.12, 10), (18.19, 11), (18.26, 11), (18.34, 6), (18.41, 4), (18.49, -7), (18.58, -19), (18.66, -15), (18.73, -7),
    (18.81, 6), (18.88, 0), (18.95, 2), (19.04, 6),
    (19.11, 6), (19.19, 13), (19.26, 15), (19.32, 23), (19.39, 6), (19.46, -3), (19.53, -17), (19.61, -23), (19.66, -30), (19.73, -28),
    (19.80, -48), (19.88, -62), (19.95, -89), (20.03, -87), (20.09, -78), (20.16, -95), (20.23, -86), (20.30, -94), (20.35, -104), (20.42, -88),
    (20.49, -89), (20.57, -91), (20.63, -79), (20.71, -81), (20.79, -73), (20.86, -73), (20.94, -66), (21.01, -75), (21.08, -69), (21.16, -57),
    (21.23, -55), (21.31, -35), (21.38, -34), (21.45, -30), (21.53, -17), (21.60, -7), (21.67, 13), (21.75, 22), (21.82, 38), (21.90, 42),
    (21.97, 45), (22.04, 57), (22.12, 54), (22.19, 60), (22.27, 70), (22.34, 74), (22.41, 76), (22.49, 70), (22.54, 65), (22.61, 70),
    (22.68, 64), (22.76, 55), (22.83, 55), (22.91, 53), (22.98, 45), (23.05, 40), (23.13, 41), (23.20, 29), (23.27, 20), (23.35, 4),
    (23.42, -5), (23.50, -12), (23.57, -13), (23.64, -11), (23.72, -18), (23.79, -14), (23.87, -3), (23.94, -3), (24.01, 2), (24.09, 11),
    (24.16, 11), (24.23, -1), (24.31, -5), (24.38, -12), (24.46, -3), (24.53, -5), (24.60, 4), (24.68, 10), (24.75, 11), (24.83, 22),
    (24.90, 14), (24.97, 14), (25.05, 11), (25.12, 6), (25.19, 2), (25.24, -5), (25.32, -4), (25.39, -12), (25.47, -26), (25.51, -28),
    (25.59, -21), (25.66, -17), (25.74, -12), (25.81, -14), (25.88, -18), (25.96, -21), (26.03, -19), (26.10, -17), (26.18, -12), (26.25, -11),
    (26.33, -10), (26.40, -7), (26.47, -5), (26.55, 8), (26.62, 11), (26.70, 22), (26.77, 22), (26.84, 29), (26.92, 42), (26.99, 51),
    (27.07, 62), (27.14, 56), (27.21, 51), (27.29, 40), (27.36, 34), (27.43, 27), (27.51, 15), (27.58, 8), (27.66, -3), (27.73, -21),
    (27.80, -44), (27.88, -60), (27.93, -71), (28.00, -73), (28.07, -74), (28.15, -70), (28.22, -64), (28.30, -73), (28.37, -66), (28.44, -61),
    (28.52, -57), (28.59, -46), (28.66, -39), (28.74, -28), (28.81, -27), (28.89, -19), (28.96, -20), (29.03, -21), (29.11, -23), (29.18, -20),
    (29.26, -19), (29.33, -7), (29.40, -4), (29.48, -12), (29.55, -10), (29.63, -1), (29.70, 6), (29.77, 10), (29.85, 15), (29.92, 13),
    (29.99, 10), (30.07, 10), (30.14, 13), (30.22, 13), (30.29, 17), (30.36, 20), (30.44, 27), (30.51, 28), (30.59, 27), (30.66, 24),
    (30.73, 22), (30.81, 23), (30.88, 33), (30.95, 42), (31.03, 63), (31.10, 65), (31.18, 72), (31.25, 85), (31.32, 87), (31.40, 83),
    (31.47, 83), (31.55, 92), (31.62, 94), (31.69, 99), (31.77, 106), (31.84, 109), (31.89, 110), (31.96, 106), (32.04, 99), (32.11, 85),
    (32.19, 72), (32.26, 54), (32.33, 36), (32.41, 15), (32.48, 6), (32.55, -5), (32.63, -14), (32.70, -19), (32.78, -23), (32.85, -26),
    (32.92, -24), (33.00, -31), (33.07, -29), (33.15, -32), (33.22, -36), (33.29, -34), (33.37, -37), (33.44, -36), (33.51, -38), (33.59, -40),
    (33.66, -44), (33.74, -46), (33.81, -48), (33.88, -60), (33.96, -69), (34.03, -77), (34.11, -87), (34.18, -89), (34.25, -96), (34.33, -105),
    (34.40, -114), (34.47, -116), (34.55, -118), (34.62, -125), (34.70, -133), (34.77, -141), (34.84, -146), (34.92, -143), (34.99, -148), (35.06, -152),
    (35.14, -155), (35.21, -148), (35.29, -139), (35.36, -123), (35.43, -107), (35.51, -89), (35.58, -73), (35.66, -60), (35.73, -48), (35.80, -35),
    (35.88, -30), (35.95, -24), (36.02, -19), (36.10, -14), (36.17, 6), (36.25, 11), (36.32, 31), (36.39, 45), (36.47, 56), (36.54, 76),
    (36.62, 79), (36.69, 99), (36.76, 117), (36.84, 122), (36.91, 131), (36.98, 135), (37.06, 136), (37.13, 139), (37.21, 142), (37.28, 137),
    (37.35, 131), (37.43, 124), (37.50, 115), (37.58, 106), (37.65, 97),
    (37.75, 93), (37.83, 92), (37.91, 89), (37.98, 81), (38.06, 84), (38.14, 87), (38.21, 88), (38.29, 91), (38.37, 92), (38.45, 98),
    (38.52, 93), (38.60, 92), (38.68, 89), (38.76, 93), (38.83, 90), (38.91, 87), (38.99, 83), (39.06, 81), (39.14, 79), (39.22, 82),
    (39.30, 76), (39.37, 67), (39.45, 59), (39.53, 51), (39.60, 40), (39.68, 27), (39.76, 13), (39.84, 4), (39.91, -3), (39.99, -21),
    (40.07, -39), (40.14, -57), (40.22, -71), (40.30, -78), (40.38, -85), (40.45, -98), (40.53, -112), (40.61, -115), (40.68, -116), (40.76, -125),
    (40.84, -130), (40.92, -130), (40.99, -126), (41.07, -121), (41.15, -114), (41.23, -107), (41.30, -106), (41.38, -100), (41.46, -91), (41.53, -89),
    (41.61, -86), (41.69, -84), (41.77, -86), (41.84, -88), (41.92, -90), (42.00, -96), (42.07, -91), (42.15, -86), (42.23, -82), (42.31, -78),
    (42.38, -64), (42.46, -58), (42.54, -57), (42.61, -48), (42.69, -48), (42.77, -56), (42.85, -54), (42.92, -49), (43.00, -48), (43.08, -35),
    (43.16, -23), (43.23, -7), (43.31, 11), (43.39, 24), (43.46, 33), (43.54, 40), (43.62, 53), (43.70, 56), (43.77, 58), (43.85, 59),
    (43.93, 63), (44.00, 65), (44.08, 65), (44.16, 63), (44.24, 56), (44.31, 51), (44.39, 50), (44.47, 42), (44.54, 33), (44.62, 32),
    (44.70, 28), (44.78, 20), (44.85, 16), (44.93, 15), (45.01, 15), (45.09, 16), (45.16, 17), (45.24, 20), (45.32, 27), (45.39, 31),
    (45.47, 38), (45.55, 41), (45.63, 40), (45.70, 34), (45.78, 33), (45.86, 33), (45.93, 36), (46.01, 37), (46.09, 40), (46.17, 42),
    (46.24, 42), (46.32, 47), (46.40, 49), (46.48, 56), (46.55, 70), (46.63, 74), (46.71, 74), (46.78, 71), (46.86, 67), (46.94, 60),
    (47.02, 58), (47.09, 55), (47.17, 47), (47.25, 38), (47.32, 24), (47.40, 15), (47.48, 11), (47.56, 8), (47.63, 6), (47.71, -1),
    (47.79, -10), (47.86, -12), (47.94, -13), (48.02, -17), (48.10, -19), (48.17, -23), (48.25, -28), (48.33, -35), (48.41, -38), (48.48, -40),
    (48.56, -44), (48.64, -46), (48.71, -48), (48.79, -51), (48.87, -52), (48.95, -53), (49.02, -53), (49.10, -53), (49.18, -46), (49.25, -40),
    (49.33, -39), (49.41, -37), (49.49, -35), (49.56, -34), (49.64, -37), (49.72, -35), (49.79, -34), (49.87, -36), (49.95, -34), (50.03, -31),
    (50.10, -26), (50.18, -17), (50.26, -12), (50.34, -3), (50.41, 3), (50.49, 5), (50.57, 6), (50.64, 4), (50.72, -1), (50.80, -6),
    (50.88, -9), (50.95, -9), (51.03, -10), (51.11, -12), (51.18, -15), (51.26, -19), (51.34, -24), (51.42, -28), (51.49, -29), (51.57, -31),
    (51.65, -28), (51.72, -23), (51.80, -19), (51.88, -18), (51.96, -14), (52.03, -6), (52.11, -1), (52.19, 4), (52.26, 8), (52.34, 12),
    (52.42, 13), (52.50, 15), (52.57, 16), (52.65, 22), (52.73, 25), (52.81, 29), (52.88, 32), (52.96, 38), (53.04, 42), (53.11, 46),
    (53.19, 50), (53.27, 51), (53.35, 47), (53.42, 43), (53.50, 45), (53.58, 45), (53.65, 45), (53.73, 38), (53.81, 31), (53.89, 28),
    (53.96, 25), (54.04, 20), (54.12, 15), (54.20, 10), (54.27, 5), (54.35, 8), (54.43, 17), (54.50, 22), (54.58, 25), (54.66, 29),
    (54.74, 32), (54.81, 34), (54.89, 32), (54.97, 29), (55.04, 28), (55.12, 22), (55.20, 13), (55.28, 2), (55.35, -4), (55.43, -7),
    (55.51, -10), (55.58, -21), (55.66, -30), (55.74, -37), (55.82, -43), (55.89, -44), (55.97, -46), (56.05, -51), (56.12, -54), (56.20, -55),
    (56.28, -55), (56.36, -54), (56.43, -53), (56.51, -55), (56.59, -58), (56.67, -63), (56.74, -68), (56.82, -65), (56.90, -64), (56.97, -63),
]

acc_t, acc = np.array(acc_pts, dtype=float).T
vel_t, vel = np.array(vel_pts, dtype=float).T
disp_t, disp = np.array(disp_pts, dtype=float).T
acc = acc * 0.01
vel = vel * 1e-4
disp = disp * 1e-5

panels = [
    (acc_t, acc, 'k', 'Acceleration (cm/s/s)'),
    (vel_t, vel, 'b', 'Velocity (cm/s)'),
    (disp_t, disp, 'r', 'Displacement (cm)'),
]

fig, axes = plt.subplots(3, 1, figsize=(12, 8))
for ax, (t, y, c, label) in zip(axes, panels):
    ax.plot(t, y, color=c, linewidth=1.8)
    lim = 1.1 * np.abs(y).max()
    ax.set_ylim(-lim, lim)
    ax.set_xlim(0, 57)
    ax.set_xlabel('Time (s)', fontsize=14)
    ax.set_ylabel(label, fontsize=14)
    ax.grid(True)

fig.subplots_adjust(left=0.0836, right=0.9867, top=0.9654, bottom=0.0782, hspace=0.339)
fig.savefig('out.png', dpi=300)
